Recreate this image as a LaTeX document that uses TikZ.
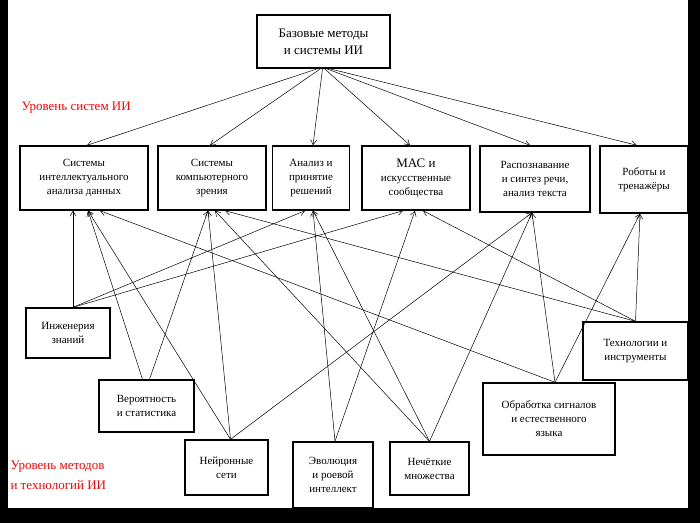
\documentclass[tikz,border=0pt]{standalone}
\usepackage{fontspec}
\setmainfont{Liberation Serif}
\usetikzlibrary{arrows.meta}

\begin{document}
\begin{tikzpicture}[x=1pt,y=-1pt,
  box/.style={draw=black,line width=1.4pt,fill=white,inner sep=1pt,align=center,font=\fontsize{11}{14}\selectfont},
  lnk/.style={->,>={Straight Barb[length=5pt,width=6pt]},line width=0.5pt},
  lvl/.style={red,align=left,anchor=west,font=\fontsize{13}{20}\selectfont}]
\fill[black] (0,0) rectangle (700,523);
\fill[white] (8,0) rectangle (688,508);
\useasboundingbox (0,0) rectangle (700,523);

% root
\node[box,minimum width=133pt,minimum height=53pt,font=\fontsize{13}{17}\selectfont] (R) at (323.5,41.5) {Базовые методы\\и системы ИИ};

% systems level
\node[box,minimum width=128pt,minimum height=64pt] (T1) at (84,178) {Системы\\интеллектуального\\анализа данных};
\node[box,minimum width=108pt,minimum height=64pt] (T2) at (212,178) {Системы\\компьютерного\\зрения};
\node[box,minimum width=77pt,minimum height=64pt] (T3) at (311,178) {Анализ и\\принятие\\решений};
\node[box,minimum width=108pt,minimum height=64pt] (T4) at (416,178) {{\fontsize{13}{16}\selectfont МАС и}\\искусственные\\сообщества};
\node[box,minimum width=110pt,minimum height=66pt] (T5) at (535,179) {Распознавание\\и синтез речи,\\анализ текста};
\node[box,minimum width=88pt,minimum height=67pt] (T6) at (644,179.5) {Роботы и\\тренажёры};

% methods level
\node[box,minimum width=84pt,minimum height=50pt] (B1) at (68,333) {Инженерия\\знаний};
\node[box,minimum width=95pt,minimum height=52pt] (B2) at (146.5,406) {Вероятность\\и статистика};
\node[box,minimum width=83pt,minimum height=55pt] (B3) at (226.5,467.5) {Нейронные\\сети};
\node[box,minimum width=80pt,minimum height=66pt] (B4) at (333,475) {Эволюция\\и роевой\\интеллект};
\node[box,minimum width=79pt,minimum height=53pt] (B5) at (429.5,468.5) {Нечёткие\\множества};
\node[box,minimum width=132pt,minimum height=72pt] (B6) at (549,419) {Обработка сигналов\\и естественного\\языка};
\node[box,minimum width=105pt,minimum height=58pt] (B7) at (635.5,351) {Технологии и\\инструменты};

\node[lvl] (L1) at (18,108) {Уровень систем ИИ};
\node[lvl] (L2) at (7,475) {Уровень методов\\и технологий ИИ};

% root to systems
\draw[lnk] ([xshift=-6pt]R.south) -- ([xshift=3pt]T1.north);
\draw[lnk] ([xshift=-3pt]R.south) -- ([xshift=-2pt]T2.north);
\draw[lnk] ([xshift=-1pt]R.south) -- ([xshift=2pt]T3.north);
\draw[lnk] ([xshift=1pt]R.south) -- ([xshift=-6pt]T4.north);
\draw[lnk] ([xshift=3pt]R.south) -- ([xshift=-5pt]T5.north);
\draw[lnk] ([xshift=6pt]R.south) -- ([xshift=-7pt]T6.north);

% methods to systems
\draw[lnk] ([xshift=5pt]B1.north) -- ([xshift=-11pt]T1.south);
\draw[lnk] ([xshift=5pt]B1.north) -- ([xshift=-6pt]T3.south);
\draw[lnk] ([xshift=5pt]B1.north) -- ([xshift=-13pt]T4.south);
\draw[lnk] ([xshift=-4pt]B2.north) -- ([xshift=4pt]T1.south);
\draw[lnk] ([xshift=3pt]B2.north) -- ([xshift=-4pt]T2.south);
\draw[lnk] ([xshift=4pt]B3.north) -- ([xshift=4pt]T1.south);
\draw[lnk] ([xshift=4pt]B3.north) -- ([xshift=-4pt]T2.south);
\draw[lnk] ([xshift=4pt]B3.north) -- ([xshift=-3pt]T5.south);
\draw[lnk] ([xshift=2pt]B4.north) -- ([xshift=2pt]T3.south);
\draw[lnk] ([xshift=2pt]B4.north) -- ([xshift=-1pt]T4.south);
\draw[lnk] (B5.north) -- ([xshift=3pt]T2.south);
\draw[lnk] (B5.north) -- ([xshift=2pt]T3.south);
\draw[lnk] (B5.north) -- ([xshift=-3pt]T5.south);
\draw[lnk] ([xshift=6pt]B6.north) -- ([xshift=16pt]T1.south);
\draw[lnk] ([xshift=6pt]B6.north) -- ([xshift=-3pt]T5.south);
\draw[lnk] ([xshift=6pt]B6.north) -- ([xshift=-4pt]T6.south);
\draw[lnk] (B7.north) -- ([xshift=13pt]T2.south);
\draw[lnk] (B7.north) -- ([xshift=7pt]T4.south);
\draw[lnk] (B7.north) -- ([xshift=-4pt]T6.south);
\end{tikzpicture}
\end{document}
